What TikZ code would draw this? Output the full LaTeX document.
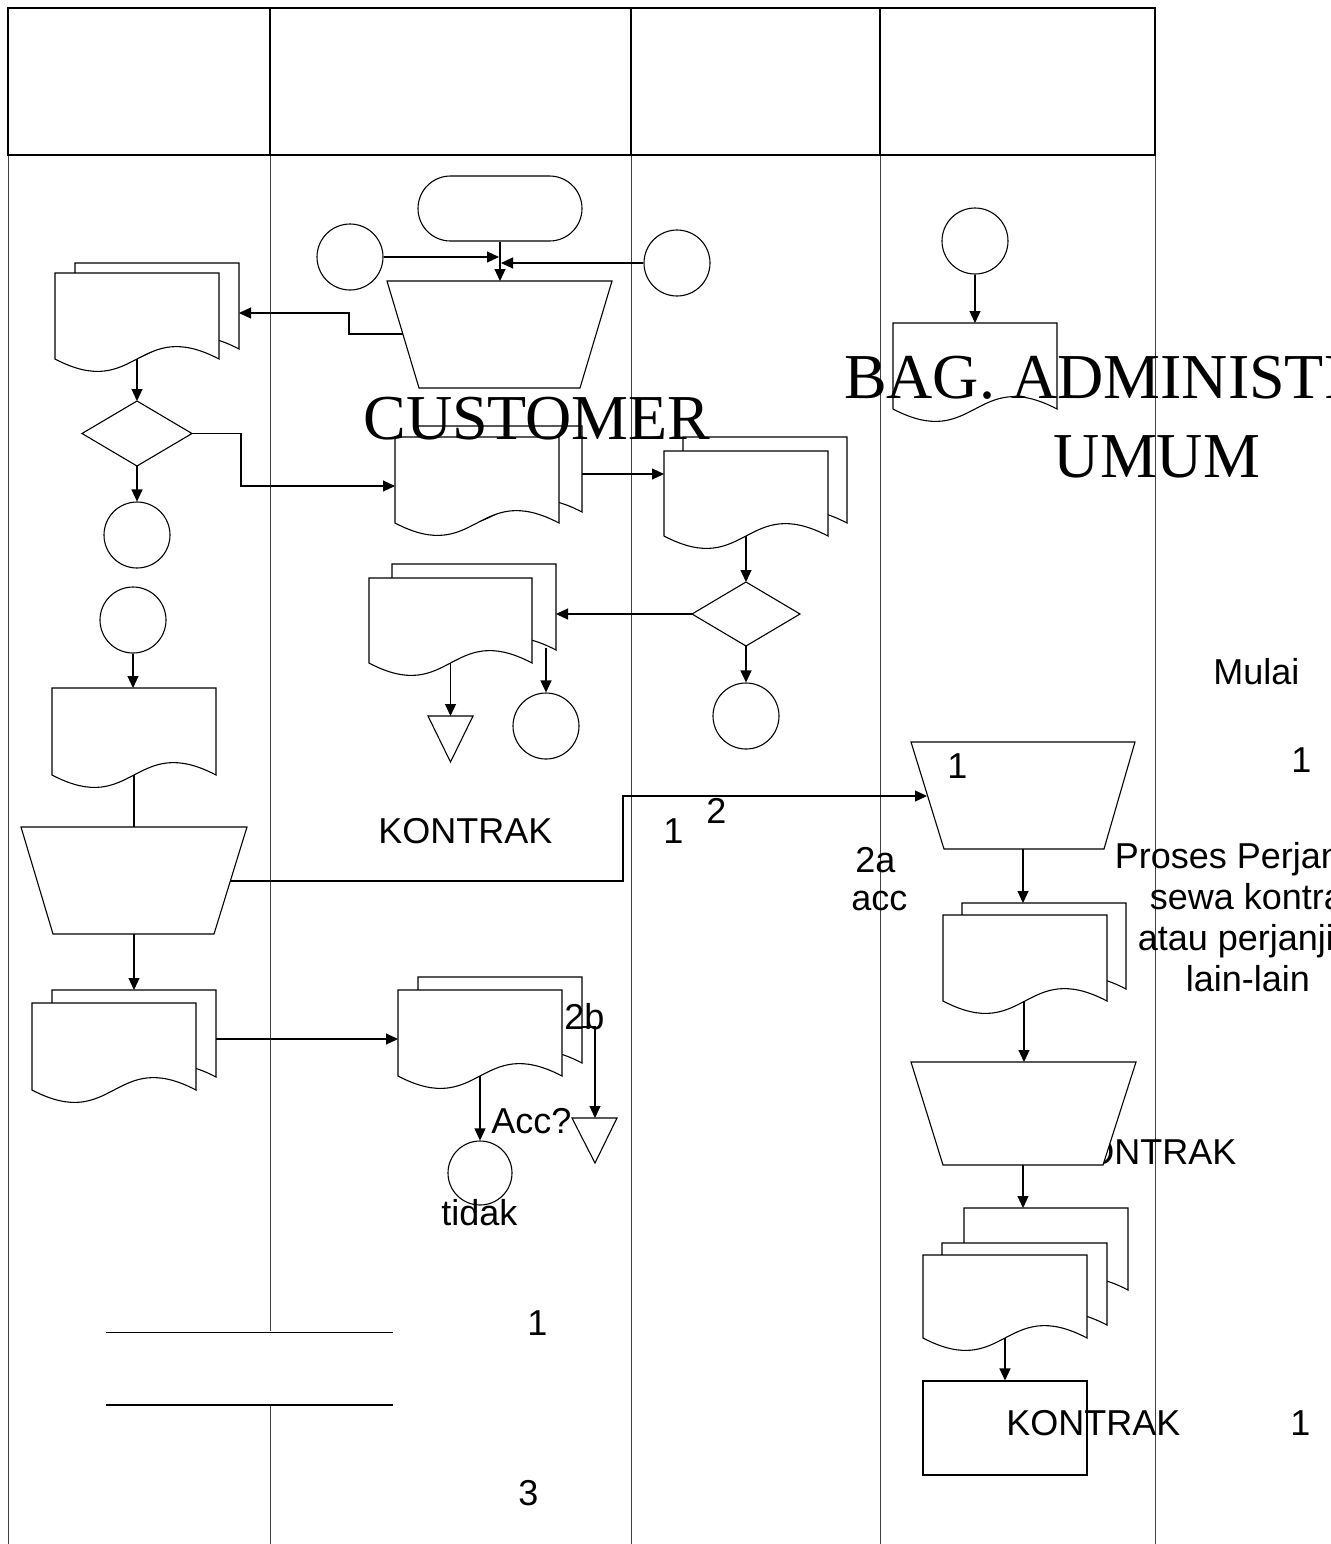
\documentclass[tikz,border=0pt]{standalone}
\usepackage{fontspec}
\setmainfont{Liberation Sans}
\newfontfamily\serifbig{Liberation Serif}
\usetikzlibrary{arrows.meta,shapes.misc}
\newcommand\mydoc[4]{\path[shp] (#1,#2) -- ({#1+#3},#2) -- ({#1+#3},{#2+#4}) .. controls ({#1+#3/2},{#2+#4-43}) and ({#1+#3/2},{#2+#4+43}) .. (#1,{#2+#4}) -- cycle;}
\newcommand\mytrap[6]{\path[shp] (#1,#3) -- (#2,#3) -- (#5,#6) -- (#4,#6) -- cycle;}
\newcommand\mydia[4]{\path[shp] ({#1-#3},#2) -- (#1,{#2-#4}) -- ({#1+#3},#2) -- (#1,{#2+#4}) -- cycle;}
\begin{document}
\begin{tikzpicture}[x=0.5pt,y=-0.5pt,
  shp/.style={draw=black,fill=white,line width=0.55pt},
  circ/.style={circle,draw=black,fill=white,line width=0.55pt,minimum size=33pt,inner sep=0pt},
  term/.style={rounded rectangle,draw=black,fill=white,line width=0.55pt,minimum width=82pt,minimum height=32.5pt,inner sep=0pt},
  arr/.style={line width=0.55pt,-{Triangle[length=6pt,width=5.5pt]}},
  ln/.style={line width=0.55pt},
  lbl/.style={inner sep=0pt,anchor=base west,font=\fontsize{18}{21}\selectfont},
  big/.style={inner sep=0pt,anchor=base,font=\serifbig\fontsize{32}{38}\selectfont},
  lane/.style={line width=0.5pt,draw=black!75},
  hdr/.style={line width=1pt,draw=black}]
\useasboundingbox (0,0) rectangle (1330,1544);
\clip (0,0) rectangle (1330,1544);
\fill[white] (0,0) rectangle (1330,1544);
% lanes
\draw[lane] (8,155) -- (8,1544);
\draw[lane] (270,155) -- (270,1331);
\draw[lane] (270,1406) -- (270,1544);
\draw[lane] (631,155) -- (631,1544);
\draw[lane] (880,155) -- (880,1544);
\draw[lane] (1155,155) -- (1155,1544);
% header
\draw[hdr] (8,8) rectangle (1155,155);
\draw[hdr] (270,8) -- (270,155);
\draw[hdr] (631,8) -- (631,155);
\draw[hdr] (880,8) -- (880,155);
% bottom bars
\draw[line width=0.5pt] (106,1332) -- (393,1332);
\draw[line width=1.2pt] (106,1405) -- (393,1405);
% text hidden behind trapezoid
\node[lbl] (tKon3) at (1062,1164) {KONTRAK};
% ---------- lane 2 top
\node[term] (term) at (500,208.5) {};
\node[circ] (cL) at (350,257) {};
\node[circ] (cR) at (677,263) {};
\mytrap{387}{612}{281}{419}{580}{388}
\coordinate (trapAtop) at (500,281);
\coordinate (trapAleft) at (403,334);
\coordinate (jL) at (499,257);
\coordinate (jR) at (501,263);
\draw[arr] (term.south) -- (trapAtop);
\draw[arr] (cL.east) -- (jL);
\draw[arr] (cR.west) -- (jR);
% ---------- lane 1 top
\mydoc{75}{263}{164}{86}
\mydoc{55}{273}{164}{86}
\coordinate (d1right) at (239,313);
\coordinate (d1bot) at (137,359);
\draw[arr] (trapAleft) -- (349,334) -- (349,313) -- (d1right);
\mydia{137}{433.5}{55}{32.5}
\coordinate (dia1top) at (137,401);
\coordinate (dia1bot) at (137,466);
\coordinate (dia1right) at (192,433.5);
\draw[arr] (d1bot) -- (dia1top);
\node[circ] (c1) at (137,535) {};
\draw[arr] (dia1bot) -- (c1.north);
% ---------- doc2, doc3
\mydoc{418}{426}{164}{86}
\mydoc{395}{437}{164}{86}
\coordinate (d2left) at (395,486);
\coordinate (d2right) at (582,474);
\draw[arr] (dia1right) -- (241,433.5) -- (241,486) -- (d2left);
\mydoc{683}{437}{164}{86}
\mydoc{664}{451}{164}{85}
\coordinate (d3left) at (664,474);
\coordinate (d3bot) at (746,536);
\draw[arr] (d2right) -- (d3left);
\mydia{746}{614}{54}{32}
\coordinate (dia2top) at (746,582);
\coordinate (dia2bot) at (746,646);
\coordinate (dia2left) at (692,614);
\draw[arr] (d3bot) -- (dia2top);
\node[circ] (c3) at (746,716) {};
\draw[arr] (dia2bot) -- (c3.north);
% ---------- doc4
\mydoc{392}{564}{164}{86}
\mydoc{369}{578}{163}{85}
\coordinate (d4right) at (556,614);
\coordinate (d4bot) at (450.5,663);
\coordinate (d4bbot) at (546,648);
\draw[arr] (dia2left) -- (d4right);
\path[shp] (428,716) -- (473,716) -- (450.5,762) -- cycle;
\coordinate (t1top) at (450.5,716);
\draw[arr] (d4bot) -- (t1top);
\node[circ] (c4) at (546,726) {};
\draw[arr] (d4bbot) -- (c4.north);
% ---------- lane 4 top
\node[circ] (c5) at (975,241) {};
\mydoc{893}{323}{164}{86}
\coordinate (d6top) at (975,323);
\draw[arr] (c5.south) -- (d6top);
% ---------- lane 1 lower
\node[circ] (c6) at (133,620) {};
\mydoc{52}{688}{164}{87}
\coordinate (d7top) at (133,688);
\coordinate (d7bot) at (134,775);
\draw[arr] (c6.south) -- (d7top);
\mytrap{21}{247}{827}{53}{214}{934}
\coordinate (trBtop) at (134,827);
\coordinate (trBbot) at (134,934);
\coordinate (trBright) at (230,881);
\draw[ln] (d7bot) -- (trBtop);
\mydoc{52}{990}{164}{87}
\mydoc{32}{1003}{164}{87}
\coordinate (d8top) at (134,990);
\coordinate (d8right) at (216,1039);
\draw[arr] (trBbot) -- (d8top);
% ---------- lane 2 lower
\mydoc{418}{977}{164}{86}
\mydoc{398}{990}{164}{86}
\coordinate (d9left) at (398,1039);
\coordinate (d9bot) at (480,1076);
\coordinate (d9right) at (582,1027);
\draw[arr] (d8right) -- (d9left);
\node[circ, minimum size=32pt] (c7) at (480,1173) {};
\draw[arr] (d9bot) -- (c7.north);
\path[shp] (572,1118) -- (617,1118) -- (595,1163) -- cycle;
\coordinate (t2top) at (595,1118);
\draw[arr] (d9right) -- (595,1027) -- (t2top);
% ---------- lane 4 lower
\mytrap{911}{1135}{742}{944}{1104}{849}
\coordinate (trCleft) at (927,796);
\coordinate (trCbot) at (1023,849);
\draw[arr] (trBright) -- (623,881) -- (623,796) -- (trCleft);
\mydoc{962}{903}{164}{86}
\mydoc{943}{915}{164}{86}
\coordinate (d10top) at (1023,903);
\coordinate (d10bot) at (1024,1001);
\draw[arr] (trCbot) -- (d10top);
\mytrap{911}{1136}{1062}{943}{1103}{1165}
\coordinate (trDtop) at (1024,1062);
\coordinate (trDbot) at (1023,1165);
\draw[arr] (d10bot) -- (trDtop);
\mydoc{964}{1208}{164}{82}
\mydoc{942}{1243}{165}{82}
\mydoc{923}{1255}{164}{83}
\coordinate (d11top) at (1023,1208);
\coordinate (d11bot) at (1005,1338);
\draw[arr] (trDbot) -- (d11top);
\node[draw=black,line width=0.55pt,minimum width=82pt,minimum height=47pt,inner sep=0pt] (box) at (1005,1428) {};
\draw[arr] (d11bot) -- (box.north);
% ---------- texts
\node[big] (tCust) at (537,439) {CUSTOMER};
\node[big] (tBag1) at (1157,398) {BAG. ADMINISTRASI};
\node[big] (tBag2) at (1157,477) {UMUM};
\node[lbl] (tKon1) at (378,843) {KONTRAK};
\node[lbl] (tOne1) at (663,843) {1};
\node[lbl] (tTwo) at (706,823) {2};
\node[lbl] (tOne2) at (947,778) {1};
\node[lbl] (tMulai) at (1213,684) {Mulai};
\node[lbl] (tOne3) at (1291,772) {1};
\node[lbl] (t2a) at (855,872) {2a};
\node[lbl] (tacc) at (851,910) {acc};
\node[lbl, anchor=base] (tP1) at (1256,868) {Proses Perjanjian};
\node[lbl, anchor=base] (tP2) at (1256,909) {sewa kontrak};
\node[lbl, anchor=base] (tP3) at (1256,950) {atau perjanjian};
\node[lbl, anchor=base] (tP4) at (1248,991) {lain-lain};
\node[lbl] (tKon2) at (1006,1435) {KONTRAK};
\node[lbl] (tOne4) at (1290,1435) {1};
\node[lbl] (t2b) at (564,1029) {2b};
\node[lbl] (tAcc) at (491,1133) {Acc?};
\node[lbl] (tTidak) at (441,1225) {tidak};
\node[lbl] (tOne5) at (527,1335) {1};
\node[lbl] (tThree) at (518,1505) {3};
\end{tikzpicture}
\end{document}
